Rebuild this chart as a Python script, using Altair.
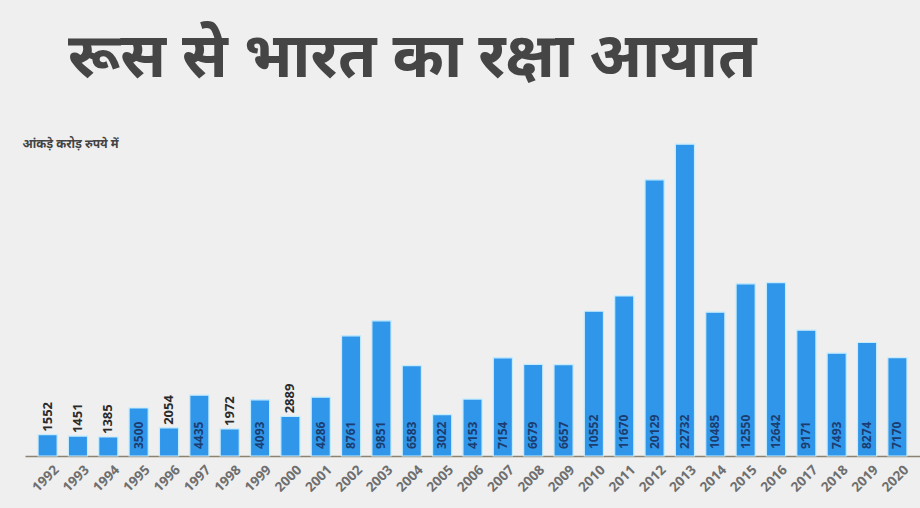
import altair as alt
import pandas as pd

years = [str(y) for y in range(1992, 2021)]
values = [1552, 1451, 1385, 3500, 2054, 4435, 1972, 4093, 2889, 4286,
          8761, 9851, 6583, 3022, 4153, 7154, 6679, 6657, 10552, 11670,
          20129, 22732, 10485, 12550, 12642, 9171, 7493, 8274, 7170]

title_text = "रूस से भारत का रक्षा आयात"
subtitle_text = "आंकड़े करोड़ रुपये में"

df = pd.DataFrame({"year": years, "value": values})
df["inside"] = df["value"] >= 3000

FONT = "Noto Sans Devanagari, Noto Sans, Lato, sans-serif"

x = alt.X("year:N", sort=years,
          scale=alt.Scale(paddingInner=0.37, paddingOuter=0.43),
          axis=alt.Axis(title=None, labels=False, ticks=False,
                        domainColor="#8c8272", domainWidth=1.5))
y = alt.Y("value:Q", scale=alt.Scale(domain=[0, 25950], nice=False),
          axis=alt.Axis(title=subtitle_text, titleAngle=0, titleAlign="left",
                        titleBaseline="middle", titleX=-3, titleY=43,
                        titleFontSize=12, titleFontWeight="bold",
                        titleColor="#444444", titleFont=FONT,
                        labels=False, ticks=False, domain=False, grid=False))

bars = alt.Chart(df).mark_bar(color="#2f96ea", stroke="#c4ecff",
                              strokeWidth=1.2).encode(x=x, y=y)

inside = alt.Chart(df).transform_filter("datum.inside").mark_text(
    angle=270, align="left", baseline="middle", dx=7, fontSize=12,
    fontWeight="bold", color="#1c3d70", font="Open Sans"
).encode(x=x, y=alt.datum(0), text="value:N")

outside = alt.Chart(df).transform_filter("!datum.inside").mark_text(
    angle=270, align="left", baseline="middle", dx=3, fontSize=13,
    fontWeight="bold", color="#2a2a2a", font="Open Sans"
).encode(x=x, y="value:Q", text="value:N")

xlabels = alt.Chart(df).mark_text(
    angle=315, align="right", baseline="top", dx=-2, dy=8, fontSize=13.5,
    fontWeight="bold", color="#6e6e6e", font="Open Sans"
).encode(x=x, y=alt.datum(0), text="year:N")

chart = alt.layer(bars, inside, outside, xlabels).properties(
    width=895, height=356,
    background="#efefef",
    padding={"left": 25, "top": 100, "right": 0, "bottom": 52},
    autosize=alt.AutoSizeParams(type="none"),
    title=alt.TitleParams(title_text, anchor="start", dx=46, offset=10,
                          fontSize=62, fontWeight="bold", color="#454545",
                          font=FONT),
).configure_view(stroke=None)

chart.save("out.html", embed_options={"renderer": "svg", "actions": False})
